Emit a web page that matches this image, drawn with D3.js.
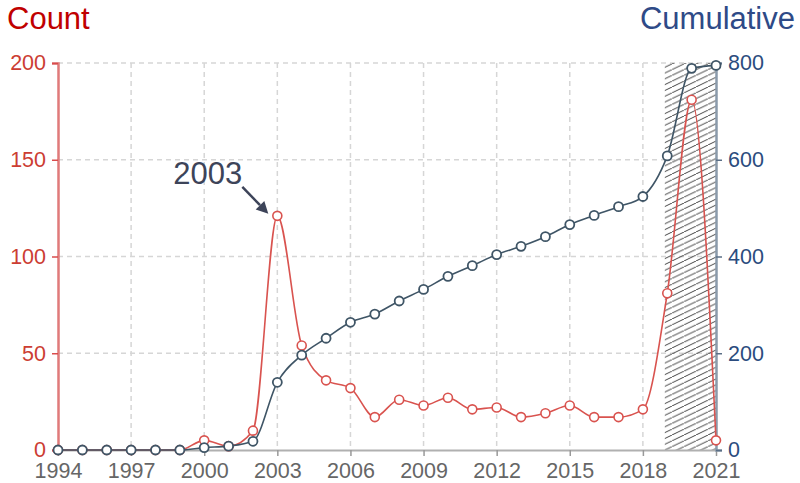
<!DOCTYPE html>
<html><head><meta charset="utf-8">
<script src="https://cdn.jsdelivr.net/npm/d3@7"></script>
<style>
body{margin:0;background:#fff;}
svg{display:block;font-family:"Liberation Sans",Arial,sans-serif;}
</style></head>
<body><svg id="c" width="800" height="483"></svg>
<script>
const years = [1994,1995,1996,1997,1998,1999,2000,2001,2002,2003,2004,2005,2006,2007,2008,2009,2010,2011,2012,2013,2014,2015,2016,2017,2018,2019,2020,2021];
const counts = [0,0,0,0,0,0,5,2,10,121,54,36,32,17,26,23,27,21,22,17,19,23,17,17,21,81,181,5];
const cumulative = [0,0,0,0,0,0,5,8,18,140,196,231,264,281,308,332,359,381,404,421,441,466,485,503,524,608,789,795];
const xTicks = [1994,1997,2000,2003,2006,2009,2012,2015,2018,2021];
const countTicks = [0,50,100,150,200];
const cumTicks = [0,200,400,600,800];
const shadeRange = [2018.9, 2021];
const annotation = {year:2003, value:121, label:"2003"};

const svg = d3.select("#c");
const x = d3.scaleLinear().domain([1994,2021]).range([58,716]);
const yL = d3.scaleLinear().domain([0,200]).range([450,63]);
const yR = d3.scaleLinear().domain([0,800]).range([450,63]);

const defs = svg.append("defs");
const pat = defs.append("pattern").attr("id","hatch").attr("patternUnits","userSpaceOnUse")
  .attr("width",12).attr("height",5.8);
pat.append("path").attr("d","M-12,5.8L0,0M0,5.8L12,0M12,5.8L24,0").attr("stroke","#2a2a2a").attr("stroke-width",0.9);

// grid
const grid = svg.append("g");
grid.selectAll("line.h").data(countTicks.filter(d=>d>0)).join("line")
  .attr("x1",x(1994)).attr("x2",x(2021)).attr("y1",d=>yL(d)).attr("y2",d=>yL(d))
  .attr("stroke","#d6d6d6").attr("stroke-width",1.5).attr("stroke-dasharray","5,4");
grid.selectAll("line.v").data(xTicks.filter(d=>d>1994&&d<2021)).join("line")
  .attr("x1",d=>x(d)).attr("x2",d=>x(d)).attr("y1",yL(200)).attr("y2",yL(0))
  .attr("stroke","#d6d6d6").attr("stroke-width",1.5).attr("stroke-dasharray","5,4");

// shaded band
svg.append("rect").attr("x",x(shadeRange[0])).attr("y",yL(200))
  .attr("width",x(shadeRange[1])-x(shadeRange[0])).attr("height",yL(0)-yL(200))
  .attr("fill","url(#hatch)");

// axes
const fmt = d3.format("d");
const gB = svg.append("g").attr("transform",`translate(0,${yL(0)})`)
  .call(d3.axisBottom(x).tickValues(xTicks).tickFormat(fmt).tickSize(6).tickSizeOuter(0).tickPadding(7));
gB.select(".domain").attr("stroke","#b0b0b0").attr("stroke-width",2);
gB.selectAll(".tick line").attr("stroke","#999").attr("stroke-width",1.5);
gB.selectAll("text").attr("fill","#666").style("font-size","21.5px");

const gL = svg.append("g").attr("transform",`translate(${x(1994)},0)`)
  .call(d3.axisLeft(yL).tickValues(countTicks).tickSize(6).tickPadding(6));
gL.select(".domain").attr("stroke","#e07a7a").attr("stroke-width",2.5);
gL.selectAll(".tick line").attr("stroke","#d94c4c").attr("stroke-width",1.5);
gL.selectAll("text").attr("fill","#cc3d33").style("font-size","21.5px");

const gR = svg.append("g").attr("transform",`translate(${x(2021)},0)`)
  .call(d3.axisRight(yR).tickValues(cumTicks).tickSize(6).tickPadding(6));
gR.select(".domain").attr("stroke","#8a9aab").attr("stroke-width",2.5);
gR.selectAll(".tick line").attr("stroke","#5a6f87").attr("stroke-width",1.5);
gR.selectAll("text").attr("fill","#2b4c7e").style("font-size","21.5px");

// titles
svg.append("text").attr("x",7).attr("y",29).attr("fill","#c00000").style("font-size","31px").text("Count");
svg.append("text").attr("x",795).attr("y",29).attr("text-anchor","end").attr("fill","#2e4a87").style("font-size","31px").text("Cumulative");

// lines
const redC = "#d9534f", blueC = "#3f5566";
const lineL = d3.line().x((d,i)=>x(years[i])).y(d=>yL(d)).curve(d3.curveMonotoneX);
const lineR = d3.line().x((d,i)=>x(years[i])).y(d=>yR(d)).curve(d3.curveMonotoneX);
svg.append("path").attr("d",lineL(counts)).attr("fill","none").attr("stroke",redC).attr("stroke-width",1.6);
svg.append("g").selectAll("circle").data(counts).join("circle")
  .attr("cx",(d,i)=>x(years[i])).attr("cy",d=>yL(d)).attr("r",4.5)
  .attr("fill","#fff").attr("stroke",redC).attr("stroke-width",1.6);
svg.append("path").attr("d",lineR(cumulative)).attr("fill","none").attr("stroke",blueC).attr("stroke-width",1.6);
svg.append("g").selectAll("circle").data(cumulative).join("circle")
  .attr("cx",(d,i)=>x(years[i])).attr("cy",d=>yR(d)).attr("r",4.5)
  .attr("fill","#fff").attr("stroke",blueC).attr("stroke-width",1.8);

// annotation
const tipX = x(annotation.year)-9, tipY = yL(annotation.value)-2;
const sx = tipX-26, sy = tipY-27;
const ang = Math.atan2(tipY-sy, tipX-sx);
const ah = 12, aw = 6;
const bx = tipX - ah*Math.cos(ang), by = tipY - ah*Math.sin(ang);
svg.append("line").attr("x1",sx).attr("y1",sy).attr("x2",bx).attr("y2",by).attr("stroke","#3d4459").attr("stroke-width",2.5);
svg.append("path").attr("d",`M${tipX},${tipY}L${bx+aw*Math.sin(ang)},${by-aw*Math.cos(ang)}L${bx-aw*Math.sin(ang)},${by+aw*Math.cos(ang)}Z`).attr("fill","#3d4459");
svg.append("text").attr("x",sx).attr("y",sy-3).attr("text-anchor","end").attr("fill","#3d4459").style("font-size","31px").text(annotation.label);
</script></body></html>
